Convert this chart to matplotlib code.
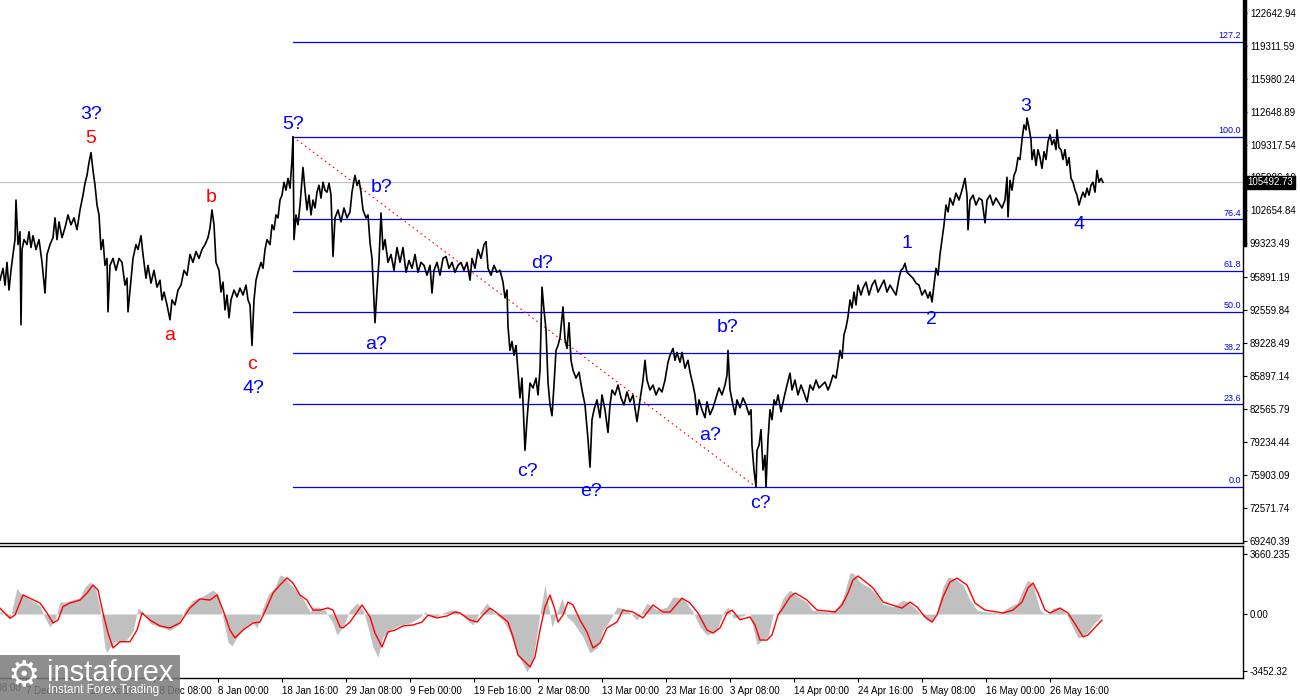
import numpy as np
import matplotlib
matplotlib.use("Agg")
import matplotlib.pyplot as plt
from matplotlib.lines import Line2D
from matplotlib.patches import Rectangle
import matplotlib.transforms as mtransforms

plt.rcParams['font.family'] = ['Liberation Sans', 'DejaVu Sans']

# price path (bar index, price in thousands)
bars = [0, 3, 5, 7, 9, 11, 13, 15, 16, 18, 20, 21, 22, 24, 27, 29, 31, 33, 36, 39,
        42, 45, 47, 50, 53, 55, 57, 59, 62, 65, 68, 71, 74, 77, 80, 83, 85, 87, 89, 91,
        93, 95, 97, 99, 101, 103, 105, 107, 108, 110, 113, 116, 119, 122, 125, 127, 128, 130, 133, 136,
        138, 141, 143, 146, 148, 151, 154, 157, 160, 162, 164, 167, 170, 172, 175, 178, 181, 184, 187, 190,
        193, 196, 199, 202, 205, 208, 210, 212, 214, 216, 219, 221, 223, 225, 227, 229, 231, 234, 237, 240,
        243, 246, 248, 250, 252, 254, 256, 258, 261, 263, 265, 267, 270, 272, 274, 276, 278, 280, 282, 284,
        286, 288, 290, 292, 293, 294, 296, 298, 300, 302, 303, 305, 307, 309, 311, 313, 315, 317, 319, 321,
        323, 325, 327, 329, 331, 333, 335, 338, 341, 344, 347, 350, 352, 354, 355, 357, 359, 361, 363, 366,
        368, 370, 372, 375, 377, 379, 381, 383, 385, 388, 391, 394, 397, 400, 403, 406, 409, 412, 415, 418,
        421, 424, 427, 430, 432, 434, 437, 440, 443, 446, 449, 452, 455, 458, 461, 464, 467, 470, 472, 475,
        478, 481, 484, 486, 488, 491, 494, 497, 500, 503, 505, 507, 508, 510, 512, 514, 516, 518, 520, 522,
        525, 527, 530, 533, 536, 538, 540, 542, 544, 546, 548, 550, 552, 554, 556, 558, 560, 562, 563, 565,
        567, 569, 571, 573, 576, 579, 582, 585, 588, 590, 592, 594, 597, 600, 602, 605, 608, 610, 612, 615,
        618, 621, 624, 627, 630, 633, 637, 640, 643, 645, 647, 650, 653, 656, 659, 662, 665, 668, 670, 673,
        675, 677, 680, 682, 685, 688, 690, 693, 695, 697, 699, 702, 705, 707, 710, 713, 716, 719, 722, 725,
        727, 728, 730, 732, 735, 737, 740, 743, 746, 749, 751, 752, 754, 756, 757, 759, 761, 763, 765, 766,
        768, 770, 772, 774, 776, 778, 781, 784, 787, 790, 792, 795, 798, 801, 804, 807, 810, 813, 816, 819,
        822, 825, 828, 830, 833, 836, 838, 840, 842, 844, 846, 848, 850, 852, 854, 856, 858, 861, 863, 866,
        869, 872, 875, 878, 881, 884, 887, 890, 893, 896, 899, 901, 903, 905, 907, 910, 913, 916, 919, 922,
        925, 928, 930, 932, 934, 936, 938, 940, 942, 944, 946, 948, 950, 953, 956, 959, 962, 965, 967, 968,
        970, 973, 976, 979, 982, 985, 987, 990, 993, 996, 999, 1002, 1005, 1007, 1008, 1010, 1012, 1014, 1016, 1018,
        1020, 1022, 1024, 1026, 1027, 1029, 1031, 1032, 1034, 1036, 1038, 1040, 1042, 1044, 1046, 1048, 1050, 1052, 1054, 1056,
        1057, 1059, 1061, 1063, 1065, 1067, 1069, 1071, 1073, 1075, 1077, 1079, 1081, 1083, 1085, 1087, 1089, 1091, 1093, 1095,
        1097, 1099, 1101, 1103]
price_k = [95.6, 96.8, 95.1, 97.4, 94.6, 96.6, 98.2, 99.7, 103.7, 99.2, 100.5, 91.1, 98.7, 99.7, 99.2, 100.5, 98.9, 100.1, 98.7, 99.7,
           97.4, 94.3, 98.2, 99.2, 99.9, 101.9, 99.7, 101.5, 99.9, 100.9, 102.2, 101.2, 101.9, 100.7, 102.7, 104.2, 105.4, 106.2, 107.5, 108.5,
           106.7, 105.2, 103.2, 102.2, 98.7, 99.7, 97.1, 97.8, 92.4, 97.1, 97.8, 96.6, 97.8, 97.4, 95.1, 95.8, 92.4, 94.6, 97.8, 99.2,
           98.7, 100.1, 98.2, 95.8, 97.1, 95.3, 96.6, 94.9, 95.6, 93.6, 94.4, 93.1, 91.6, 93.6, 93.1, 94.6, 95.1, 96.6, 96.1, 98.2,
           97.4, 98.5, 97.8, 98.7, 99.2, 99.9, 100.9, 102.7, 101.2, 97.4, 96.6, 94.4, 95.4, 92.6, 94.1, 91.8, 93.6, 94.6, 93.9, 94.8,
           94.1, 95.1, 93.6, 93.1, 89.0, 93.6, 95.6, 96.4, 97.4, 96.8, 98.7, 99.7, 99.2, 101.2, 100.7, 102.2, 101.9, 103.7, 104.2, 105.5,
           104.7, 105.9, 104.9, 107.8, 110.1, 99.7, 102.2, 101.2, 103.2, 105.7, 107.0, 104.7, 102.7, 104.2, 102.2, 103.7, 102.9, 104.5, 105.2, 103.9,
           105.5, 104.7, 104.5, 105.4, 104.2, 98.0, 101.9, 102.7, 101.5, 102.9, 101.9, 102.5, 104.5, 105.7, 106.2, 105.2, 105.7, 104.5, 102.7, 101.9,
           102.2, 99.4, 97.8, 91.3, 94.6, 97.6, 102.4, 98.7, 99.7, 97.4, 98.2, 96.6, 98.9, 97.4, 98.9, 96.4, 97.6, 96.8, 98.2, 96.4,
           97.4, 97.1, 96.1, 97.1, 94.3, 96.6, 97.4, 96.1, 97.8, 98.0, 96.8, 97.4, 96.4, 97.1, 97.4, 96.6, 97.4, 95.6, 97.8, 96.8,
           98.7, 97.8, 99.2, 99.5, 96.8, 96.1, 97.1, 96.4, 96.6, 95.4, 93.8, 94.6, 90.9, 88.5, 89.4, 88.0, 89.0, 86.3, 83.7, 85.7,
           78.4, 81.5, 85.2, 84.7, 85.7, 84.0, 86.5, 94.9, 92.6, 90.6, 85.3, 83.0, 81.9, 85.0, 88.5, 89.0, 89.8, 91.8, 92.9, 89.6,
           88.7, 91.3, 87.5, 86.5, 85.7, 86.3, 84.5, 83.0, 79.5, 76.7, 81.5, 82.5, 83.5, 81.7, 84.0, 82.5, 80.2, 83.0, 84.5, 84.0,
           85.0, 83.7, 83.0, 84.3, 83.3, 84.0, 81.3, 83.5, 85.5, 87.5, 85.5, 84.5, 85.0, 84.0, 84.7, 84.3, 85.5, 87.3, 88.0, 88.7,
           87.5, 88.3, 87.3, 88.3, 86.7, 87.5, 86.3, 85.0, 84.0, 82.0, 83.5, 82.5, 81.7, 83.3, 82.0, 82.7, 83.7, 84.7, 84.0, 85.0,
           86.0, 88.5, 84.5, 83.5, 82.0, 83.5, 82.7, 83.7, 83.0, 82.0, 82.5, 78.9, 76.4, 74.7, 78.4, 78.9, 80.5, 76.4, 77.9, 74.7,
           79.5, 82.5, 81.5, 83.5, 83.0, 84.0, 82.3, 83.7, 85.0, 86.2, 84.5, 85.5, 84.0, 85.0, 84.2, 83.3, 85.0, 84.5, 85.5, 84.7,
           85.0, 85.3, 84.5, 85.0, 86.0, 85.7, 87.0, 88.5, 87.7, 90.1, 90.8, 91.9, 93.6, 92.8, 94.4, 93.1, 95.1, 94.1, 94.8, 95.4,
           94.1, 95.1, 95.6, 94.4, 95.0, 95.6, 94.4, 95.1, 94.6, 94.1, 95.8, 96.6, 96.8, 97.3, 96.4, 96.1, 95.8, 95.3, 95.1, 94.1,
           94.6, 93.8, 94.4, 93.4, 95.1, 96.8, 96.1, 98.2, 99.7, 101.2, 103.2, 102.5, 103.9, 103.2, 104.4, 103.7, 104.7, 105.9, 104.2, 100.7,
           103.7, 104.2, 103.2, 103.9, 103.7, 101.4, 103.7, 104.2, 103.2, 103.9, 103.4, 102.9, 103.7, 106.0, 102.0, 105.7, 104.7, 106.2, 106.7, 108.0,
           107.8, 109.8, 111.3, 110.8, 112.0, 111.0, 109.8, 107.8, 108.8, 107.2, 108.8, 108.0, 106.9, 108.6, 107.8, 109.6, 110.3, 109.3, 109.8, 108.8,
           110.8, 109.0, 108.8, 107.8, 108.8, 107.2, 108.0, 105.9, 105.5, 104.7, 104.2, 103.2, 103.9, 104.5, 104.0, 104.9, 104.2, 105.2, 105.5, 104.5,
           106.7, 105.5, 105.9, 105.5]
price = np.array(price_k) * 1000
last_price = 105492.73

# oscillator: histogram (gray) and signal line (red)
hist_x = [0, 5, 10, 17, 20, 27, 33, 40, 45, 50, 55, 60, 65, 72, 80, 85, 90, 95, 100, 105,
          107, 110, 115, 125, 133, 138, 143, 150, 160, 170, 178, 185, 193, 203, 213, 218, 223, 228, 232, 237,
          245, 252, 257, 262, 268, 275, 280, 285, 290, 295, 300, 305, 310, 313, 318, 325, 333, 337, 343, 350,
          357, 363, 368, 373, 378, 383, 390, 400, 410, 420, 425, 433, 443, 450, 457, 467, 473, 480, 487, 493,
          503, 510, 517, 522, 527, 533, 540, 545, 548, 552, 557, 562, 567, 573, 583, 590, 597, 603, 610, 617,
          627, 637, 647, 657, 667, 673, 683, 693, 700, 707, 717, 723, 728, 733, 740, 750, 753, 757, 762, 768,
          773, 778, 783, 790, 798, 807, 812, 820, 830, 837, 843, 850, 853, 860, 870, 877, 883, 893, 903, 908,
          917, 927, 932, 937, 943, 948, 955, 963, 970, 977, 987, 1000, 1007, 1017, 1025, 1028, 1033, 1040, 1047, 1053,
          1060, 1067, 1073, 1078, 1085, 1093, 1102]
hist_v = [240, -60, -280, 1590, 1280, 1000, 800, 500, -240, -790, -360, 730, 730, 850, 1000, 1650, 1950, 1650, 370, -2070,
          -2330, -2030, -1700, -1700, -1040, 370, 120, -570, -790, -1000, -670, 240, 850, 1100, 1460, 1220, -240, -1700, -1950, -1400,
          -790, -480, -860, 240, 1160, 1650, 2380, 2260, 1830, 1520, 1200, 730, 120, 420, 420, 240, -570, -1290, -790, 240,
          670, 240, -790, -2030, -2620, -1400, -980, -670, -550, -180, 120, -240, 60, 240, 240, -370, -670, 120, 670, 120,
          -370, -1160, -2380, -2930, -3540, -2810, 60, 1770, 670, -790, 60, 970, -180, -490, -1400, -2380, -2070, -980, -370, 430,
          240, -370, 670, 240, 430, 1040, 970, 120, -790, -1290, -980, 60, 430, -240, -180, 60, -790, -1890, -1590, -1400,
          -60, 120, 970, 1460, 1040, 730, 240, 180, 120, 360, 970, 2500, 2500, 1950, 1590, 1160, 610, 430, 850, 730,
          240, -370, -490, 120, 1650, 2260, 2140, 1770, 850, 240, 120, 60, 360, 670, 1770, 2070, 1770, 240, -60, 360,
          430, -60, -850, -1460, -1280, -670, -60]
signal_x = [0, 10, 15, 23, 30, 40, 47, 53, 58, 63, 70, 80, 87, 93, 98, 103, 108, 113, 120, 130,
            137, 142, 150, 160, 170, 180, 190, 200, 210, 217, 223, 230, 235, 243, 253, 260, 267, 273, 280, 287,
            293, 300, 307, 313, 320, 328, 333, 340, 343, 350, 362, 370, 375, 382, 388, 395, 403, 413, 422, 428,
            437, 447, 455, 460, 470, 477, 483, 490, 497, 503, 508, 513, 518, 525, 530, 535, 540, 545, 550, 555,
            558, 563, 568, 573, 580, 587, 593, 600, 607, 617, 623, 633, 643, 653, 663, 670, 682, 690, 698, 707,
            713, 720, 727, 732, 740, 750, 755, 760, 767, 772, 778, 783, 790, 795, 802, 807, 817, 827, 835, 842,
            848, 853, 858, 867, 873, 883, 892, 902, 910, 917, 925, 932, 937, 943, 950, 957, 967, 975, 985, 997,
            1003, 1013, 1022, 1028, 1033, 1038, 1045, 1050, 1060, 1068, 1077, 1083, 1088, 1102]
signal_v = [350, -260, -60, 1160, 960, 670, 60, -550, -370, 450, 670, 850, 1280, 1770, 1460, 60, -1160, -2070, -1690, -1690,
            -980, 60, -370, -730, -850, -550, 370, 920, 850, 1160, 240, -980, -1460, -980, -550, -490, 430, 1280, 1770, 2200,
            1890, 1160, 850, 240, 240, 370, 240, -790, -850, -490, 550, -180, -1160, -2010, -1100, -980, -730, -670, -490, -60,
            -240, -120, 120, 60, -370, -490, -60, 360, 60, -240, -490, -1400, -2500, -2930, -3230, -2620, -980, 430, 1160, 240,
            -490, -60, 730, 550, -370, -1100, -2070, -1770, -850, -490, 240, 120, -240, 550, 120, 120, 970, 670, 60, -980,
            -1160, -850, 60, 240, -350, -180, -670, -1590, -1590, -1280, -60, 370, 1040, 1280, 1040, 850, 240, 180, 120, 550,
            1280, 2070, 2320, 1890, 1590, 730, 550, 360, 730, 430, -180, -490, -60, 1040, 1950, 2190, 1770, 670, 240, 120,
            60, 240, 730, 1590, 1890, 1280, 240, 60, 360, 60, -790, -1400, -1280, -370]

# fibonacci grid between the 5? top and the c? bottom
fib_start, fib_end = 293, 756
fib_levels = [0.0, 23.6, 38.2, 50.0, 61.8, 76.4, 100.0, 127.2]

# wave labels: (text, bar, price, colour)
wave_labels = [("3?", 91, 112400, "blue"), ("5", 91, 109975, "red"), ("a", 170, 89960, "red"),
               ("b", 211, 103910, "red"), ("c", 252, 87030, "red"), ("4?", 253, 84700, "blue"),
               ("5?", 293, 111390, "blue"), ("b?", 382, 105020, "blue"), ("a?", 376, 89050, "blue"),
               ("d?", 542, 97240, "blue"), ("c?", 527, 76210, "blue"), ("e?", 591, 74190, "blue"),
               ("b?", 728, 90770, "blue"), ("a?", 710, 79850, "blue"), ("c?", 760, 73070, "blue"),
               ("1", 907, 99260, "blue"), ("2", 931, 91580, "blue"), ("3", 1026, 113110, "blue"),
               ("4", 1079, 101280, "blue")]

price_ticks = [122642.94, 119311.59, 115980.24, 112648.89, 109317.54, 105986.19, 102654.84, 99323.49,
               95891.19, 92559.84, 89228.49, 85897.14, 82565.79, 79234.44, 75903.09, 72571.74, 69240.39]
osc_ticks = [3660.235, 0.0, -3452.32]
osc_tick_labels = ["3660.235", "0.00", "-3452.32"]
date_labels = ["26 Nov 08:00", "7 Dec 00:00", "17 Dec 16:00", "28 Dec 08:00", "8 Jan 00:00",
               "18 Jan 16:00", "29 Jan 08:00", "9 Feb 00:00", "19 Feb 16:00", "2 Mar 08:00",
               "13 Mar 00:00", "23 Mar 16:00", "3 Apr 08:00", "14 Apr 00:00", "24 Apr 16:00",
               "5 May 08:00", "16 May 00:00", "26 May 16:00"]
date_pos = [-37.5 + 64 * k for k in range(len(date_labels))]

W, H = 1300, 700
fig = plt.figure(figsize=(13, 7), dpi=100)
ax = fig.add_axes([0, 157 / H, 1243 / W, 543 / H])
ax2 = fig.add_axes([0, 22 / H, 1243 / W, 132 / H])

BLUE = "#0000ff"
tick_font = 7

# ---- main price panel
ax.set_xlim(0, 1243)
ax.set_ylim(69030, 123927)
ax.axhline(last_price, color="#c0c0c0", lw=0.8, zorder=1)

p_hi = price[bars.index(fib_start)]
p_lo = price[bars.index(fib_end)]
for lv in fib_levels:
    yv = p_lo + (p_hi - p_lo) * lv / 100
    ax.plot([fib_start, 1243], [yv, yv], color=BLUE, lw=0.9, zorder=2)
    ax.text(1241, yv + 150, f"{lv:.1f}", color=BLUE, fontsize=6.5, ha="right", va="bottom")
ax.plot([fib_start, fib_end], [p_hi, p_lo], color="red", lw=0.8, ls=(0, (1.5, 3)), zorder=2)

ax.plot(bars, price, color="black", lw=1.2, zorder=3)

for txt, bx, py, col in wave_labels:
    ax.text(bx, py, txt, color=BLUE if col == "blue" else "red", fontsize=14,
            ha="center", va="center", zorder=4)

ax.yaxis.tick_right()
ax.set_yticks(price_ticks)
ax.set_yticklabels([f"{v:.2f}" for v in price_ticks])
ax.tick_params(axis="y", direction="out", length=3, width=0.8, labelsize=tick_font, pad=2)
ax.set_xticks([])
for s in ["top", "left"]:
    ax.spines[s].set_visible(False)
for s in ["right", "bottom"]:
    ax.spines[s].set_color("black")
    ax.spines[s].set_linewidth(1.0)

trans = mtransforms.blended_transform_factory(ax.transAxes, ax.transData)
ax.text(1.0035, last_price, f"{last_price:.2f}", transform=trans, color="white", fontsize=tick_font,
        ha="left", va="center", clip_on=False, zorder=10,
        bbox=dict(boxstyle="square,pad=0.15", facecolor="black", edgecolor="black"))

# thick marker at the top of the price scale
fig.add_artist(Line2D([1244.5 / W, 1244.5 / W], [1, (H - 245) / H], color="black", lw=2.5))

# ---- oscillator panel
ax2.set_xlim(0, 1243)
ax2.set_ylim(-3904, 4148)
ax2.fill_between(hist_x, 0, hist_v, color="#c0c0c0", lw=0)
ax2.plot(signal_x, signal_v, color="red", lw=1.0)
ax2.yaxis.tick_right()
ax2.set_yticks(osc_ticks)
ax2.set_yticklabels(osc_tick_labels)
ax2.tick_params(axis="y", direction="out", length=3, width=0.8, labelsize=tick_font, pad=2)
ax2.set_xticks(date_pos[1:])
ax2.set_xticklabels(date_labels[1:])
ax2.tick_params(axis="x", direction="out", length=3, width=0.8, labelsize=tick_font, pad=3)
for lab in ax2.get_xticklabels():
    lab.set_horizontalalignment("left")
ax2.text(date_pos[0], -0.035, date_labels[0],
         transform=mtransforms.blended_transform_factory(ax2.transData, ax2.transAxes),
         fontsize=tick_font, ha="left", va="top", clip_on=False)
ax2.spines["left"].set_visible(False)
for s in ["right", "bottom", "top"]:
    ax2.spines[s].set_color("black")
    ax2.spines[s].set_linewidth(1.0)

# ---- watermark
fig.add_artist(Rectangle((0, 0), 180 / W, 45 / H, transform=fig.transFigure,
                         facecolor="#7a7a7a", edgecolor="none", alpha=0.85, zorder=5))
fig.text(24 / W, 25 / H, "\u2699", color="white", fontsize=26, ha="center", va="center",
         family="DejaVu Sans", zorder=6)
fig.text(47 / W, 19 / H, "instaforex", color="white", fontsize=21, ha="left", va="baseline", zorder=6)
fig.text(48 / W, 7 / H, "Instant Forex Trading", color="white", fontsize=8.5, ha="left", va="baseline",
         zorder=6)

fig.savefig("out.png", dpi=100)
